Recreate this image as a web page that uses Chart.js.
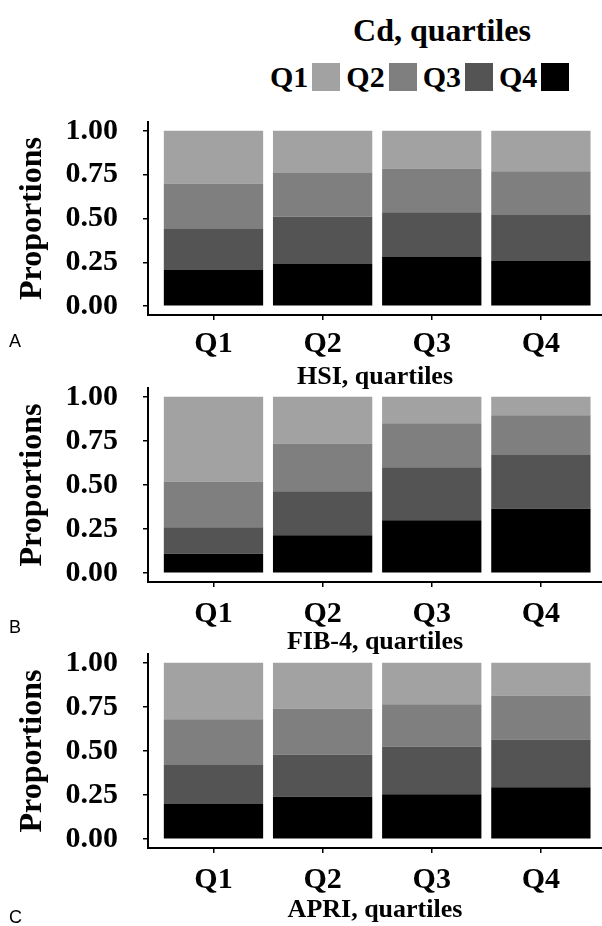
<!DOCTYPE html>
<html>
<head>
<meta charset="utf-8">
<script src="https://cdn.jsdelivr.net/npm/chart.js@4.4.1/dist/chart.umd.min.js"></script>
<style>
  html, body { margin: 0; padding: 0; background: #fff; }
  body { width: 602px; height: 926px; position: relative; overflow: hidden;
         font-family: "Liberation Serif", "Times New Roman", serif; color: #000; }
  canvas.panel { position: absolute; left: 0; }
  #legendTitle { position: absolute; left: 342px; width: 200px; top: 11px; text-align: center;
                 font-weight: bold; font-size: 32px; line-height: 38px; white-space: nowrap; }
  #legend { position: absolute; left: 270px; top: 61px; display: flex; align-items: center; height: 32px; }
  .litem { display: flex; align-items: center; margin-right: 6px; }
  .litem span { font-weight: bold; font-size: 30px; line-height: 32px; }
  .litem i { display: inline-block; width: 28px; height: 28px; margin-left: 4px; }
  .letter { position: absolute; left: 9px; font-family: "Liberation Sans", Arial, sans-serif;
            font-size: 18px; line-height: 20px; }
</style>
</head>
<body>
<div id="legendTitle">Cd, quartiles</div>
<div id="legend"></div>
<canvas id="pA" class="panel" width="602" height="285" style="top:110px"></canvas>
<canvas id="pB" class="panel" width="602" height="284" style="top:378px"></canvas>
<canvas id="pC" class="panel" width="602" height="282" style="top:644px"></canvas>
<div class="letter" style="top:331px">A</div>
<div class="letter" style="top:617px">B</div>
<div class="letter" style="top:907px">C</div>
<script>
// ---------- data ----------
const categories = ['Q1', 'Q2', 'Q3', 'Q4'];          // x categories (outcome quartiles)
const cdQuartiles = ['Q1', 'Q2', 'Q3', 'Q4'];         // stacked series (Cd quartiles)
const yTickValues = [0, 0.25, 0.5, 0.75, 1];
const yTickLabels = ['0.00', '0.25', '0.50', '0.75', '1.00'];
const panelTitles = ['HSI, quartiles', 'FIB-4, quartiles', 'APRI, quartiles'];
const yTitle = 'Proportions';
const legendTitle = 'Cd, quartiles';

// Panel A: HSI quartiles - proportion of each Cd quartile
const hsiCdQ1 = [0.30, 0.24, 0.215, 0.23];
const hsiCdQ2 = [0.26, 0.25, 0.25, 0.25];
const hsiCdQ3 = [0.23, 0.27, 0.255, 0.26];
const hsiCdQ4 = [0.21, 0.24, 0.28, 0.26];

// Panel B: FIB-4 quartiles
const fibCdQ1 = [0.48, 0.265, 0.15, 0.105];
const fibCdQ2 = [0.26, 0.27, 0.25, 0.225];
const fibCdQ3 = [0.15, 0.25, 0.30, 0.305];
const fibCdQ4 = [0.11, 0.215, 0.30, 0.365];

// Panel C: APRI quartiles
const apriCdQ1 = [0.32, 0.26, 0.235, 0.185];
const apriCdQ2 = [0.26, 0.26, 0.24, 0.25];
const apriCdQ3 = [0.22, 0.24, 0.27, 0.27];
const apriCdQ4 = [0.20, 0.24, 0.255, 0.295];

// ---------- styles ----------
const seriesColors = { Q1: '#a2a2a2', Q2: '#7f7f7f', Q3: '#545454', Q4: '#000000' };
const SERIF = '"Liberation Serif", "Times New Roman", serif';

// legend (text followed by swatch, as in the figure)
const legendEl = document.getElementById('legend');
document.getElementById('legendTitle').textContent = legendTitle;
cdQuartiles.forEach(q => {
  const it = document.createElement('div');
  it.className = 'litem';
  const s = document.createElement('span'); s.textContent = q;
  const b = document.createElement('i'); b.style.background = seriesColors[q];
  it.appendChild(s); it.appendChild(b);
  legendEl.appendChild(it);
});

function makePanel(id, series, title, cfg) {
  // stack from bottom: Cd Q4 (black) ... Cd Q1 (light grey) on top
  const order = ['Q4', 'Q3', 'Q2', 'Q1'];
  const datasets = order.map(q => ({
    label: q,
    data: categories.map((c, i) => ({ x: i, y: series[q][i] })),
    backgroundColor: seriesColors[q],
    borderWidth: 0,
    categoryPercentage: 1,
    barPercentage: 0.91
  }));
  new Chart(document.getElementById(id), {
    type: 'bar',
    data: { datasets },
    options: {
      responsive: false, animation: false, devicePixelRatio: 1,
      layout: { padding: { top: cfg.padTop, left: 0, right: 0, bottom: 0 } },
      plugins: { legend: { display: false }, tooltip: { enabled: false } },
      scales: {
        x: {
          type: 'linear', stacked: true, min: -0.6, max: 3.56, offset: false,
          afterBuildTicks: s => { s.ticks = categories.map((c, i) => ({ value: i })); },
          afterFit: s => { s.height = cfg.xh; s.paddingLeft = 0; s.paddingRight = 0; },
          ticks: {
            callback: (v, i) => categories[i],
            font: { family: SERIF, size: 30, weight: 'bold' }, color: '#000',
            padding: cfg.xTickPad, autoSkip: false, maxRotation: 0
          },
          grid: { offset: false, drawOnChartArea: false, drawTicks: true, tickLength: 5, color: '#000', lineWidth: 1.5 },
          border: { display: true, color: '#000', width: 2 },
          title: { display: true, text: title, color: '#000',
                   font: { family: SERIF, size: 26, weight: 'bold' },
                   padding: { top: 0, bottom: cfg.titlePad } }
        },
        y: {
          stacked: true, min: -0.05, max: 1.05,
          afterBuildTicks: s => { s.ticks = yTickValues.map(v => ({ value: v })); },
          afterFit: s => { s.width = 148; s.paddingTop = 0; s.paddingBottom = 0; },
          ticks: {
            callback: (v, i) => yTickLabels[i],
            font: { family: SERIF, size: 30, weight: 'bold' }, color: '#000', padding: 25
          },
          grid: { drawOnChartArea: false, drawTicks: true, tickLength: 5, color: '#000', lineWidth: 1.5 },
          border: { display: true, color: '#000', width: 2 },
          title: { display: true, text: yTitle, color: '#000',
                   font: { family: SERIF, size: 32, weight: 'bold' },
                   padding: { top: 14, bottom: 0 } }
        }
      }
    }
  });
}

makePanel('pA', { Q1: hsiCdQ1, Q2: hsiCdQ2, Q3: hsiCdQ3, Q4: hsiCdQ4 }, panelTitles[0],
          { padTop: 12, xh: 80, xTickPad: 6, titlePad: 2 });
makePanel('pB', { Q1: fibCdQ1, Q2: fibCdQ2, Q3: fibCdQ3, Q4: fibCdQ4 }, panelTitles[1],
          { padTop: 10, xh: 80, xTickPad: 9, titlePad: 4 });
makePanel('pC', { Q1: apriCdQ1, Q2: apriCdQ2, Q3: apriCdQ3, Q4: apriCdQ4 }, panelTitles[2],
          { padTop: 10, xh: 78, xTickPad: 9, titlePad: 0 });
</script>
</body>
</html>
